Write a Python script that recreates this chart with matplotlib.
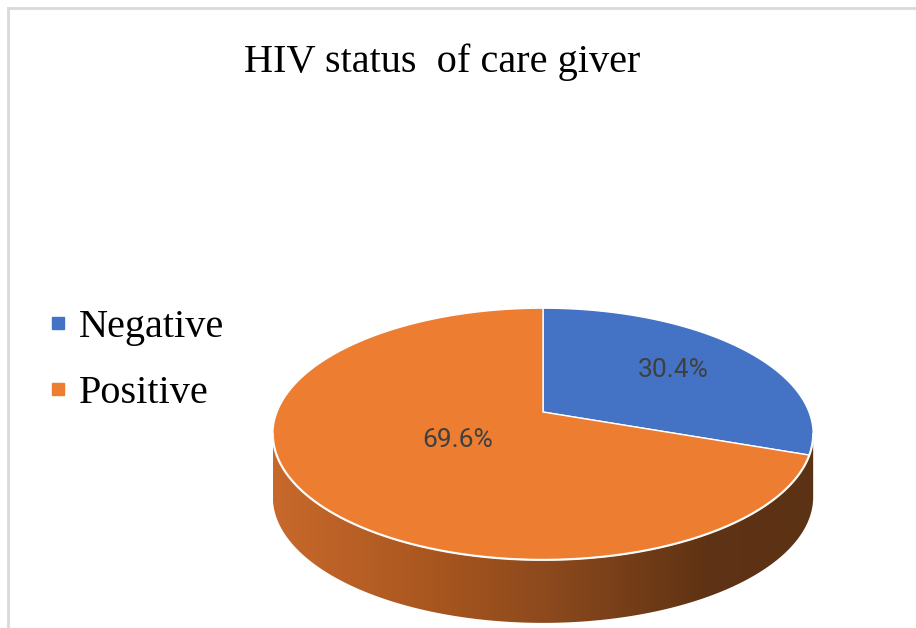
import numpy as np
import matplotlib.pyplot as plt
from matplotlib.patches import Polygon
from matplotlib.lines import Line2D
from matplotlib.colors import LinearSegmentedColormap

# data
labels = ['Negative', 'Positive']
shares = [30.4, 69.6]
colors = ['#4472C4', '#ED7D31']
title = 'HIV status  of care giver'

# pie geometry (pixels), simple perspective of a tilted disc
W, H = 916, 628
cx, cy = 543, 412
A, B, c = 266, 122, 0.175
depth = 63
label_r = [0.64, 0.38]

def project(theta, r=1.0):
    u, v = r * np.cos(theta), r * np.sin(theta)
    return cx + A * u / (1 + c * v), cy - B * v / (1 + c * v)

fig = plt.figure(figsize=(W / 100, H / 100), dpi=100)
ax = fig.add_axes([0, 0, 1, 1])
ax.set_xlim(0, W)
ax.set_ylim(H, 0)
ax.axis('off')

# chart frame (only top and left show)
ax.add_line(Line2D([8, W], [7.5, 7.5], color='#d9d9d9', lw=2))
ax.add_line(Line2D([8, 8], [7.5, H], color='#d9d9d9', lw=2))

# side of the pie
t0 = np.pi + np.arcsin(c)
t1 = 2 * np.pi - np.arcsin(c)
ts = np.linspace(t0, t1, 300)
tx, ty = project(ts)
side_pts = np.vstack([np.column_stack([tx, ty]),
                      np.column_stack([tx[::-1], ty[::-1] + depth])])
side = Polygon(side_pts, closed=True, facecolor='none', edgecolor='none')
ax.add_patch(side)
side_cmap = LinearSegmentedColormap.from_list(
    'side', [(0, '#C8692C'), (0.3, '#A8561F'), (0.5, '#8D4A1D'),
             (0.8, '#5F3314'), (1, '#5C3214')])
grad = np.linspace(0, 1, 256).reshape(1, -1)
im = ax.imshow(grad, extent=[tx.min(), tx.max(), H, 300], cmap=side_cmap,
               aspect='auto', zorder=1)
im.set_clip_path(side)

# top face wedges
edges = 90 - np.concatenate([[0], np.cumsum(shares)]) / sum(shares) * 360
for i in range(len(shares)):
    th = np.radians(np.linspace(edges[i], edges[i + 1], 300))
    px, py = project(th)
    pts = np.vstack([[cx, cy], np.column_stack([px, py])])
    ax.add_patch(Polygon(pts, closed=True, facecolor=colors[i],
                         edgecolor='white', lw=1, zorder=3))
    mid = np.radians((edges[i] + edges[i + 1]) / 2)
    lx, ly = project(mid, label_r[i])
    ax.text(lx, ly, f'{shares[i]:.1f}%', ha='center', va='center',
            fontsize=19, color='#404040', family='Roboto', zorder=5)

# light rim along the front edge
ax.plot(tx, ty, color='white', lw=1.6, alpha=0.85, zorder=4)

fig.text(442 / W, 1 - 72 / H, title, ha='center', va='baseline',
         fontsize=29, family='Liberation Serif', color='black')

handles = [Line2D([], [], marker='s', color=col, markersize=8, linestyle='none')
           for col in colors]
fig.legend(handles, labels, loc='upper left', bbox_to_anchor=(48 / W, 1 - 309 / H),
           frameon=False, prop={'family': 'Liberation Serif', 'size': 29},
           handlelength=0.5, handletextpad=0.26, labelspacing=0.72,
           borderpad=0, borderaxespad=0)

fig.savefig('out.png', dpi=100)
